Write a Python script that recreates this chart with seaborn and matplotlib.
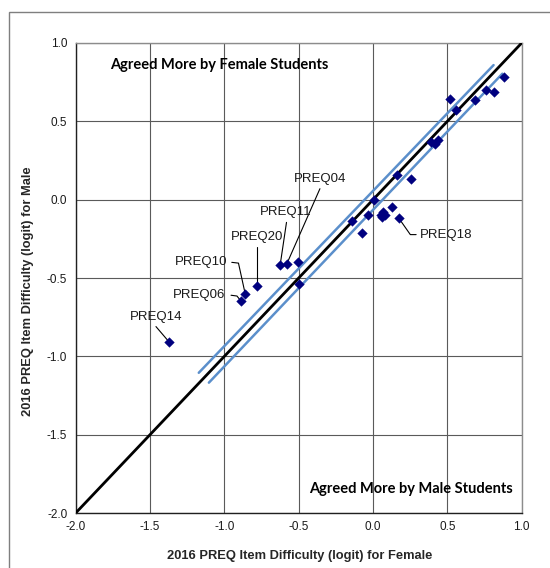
import matplotlib
matplotlib.use("Agg")
import matplotlib.pyplot as plt
import seaborn as sns
import pandas as pd
from matplotlib.patches import Rectangle

# Item difficulty estimates (logits) for female and male respondents
female = [-1.37, -0.89, -0.86, -0.78, -0.625, -0.58, -0.505, -0.495,
          -0.14, -0.075, -0.035, 0.01, 0.055, 0.07, 0.08, 0.06, 0.125,
          0.175, 0.16, 0.255, 0.39, 0.42, 0.44, 0.515, 0.555, 0.685,
          0.76, 0.815, 0.88]
male = [-0.91, -0.645, -0.60, -0.55, -0.42, -0.41, -0.40, -0.54,
        -0.135, -0.215, -0.097, -0.005, -0.10, -0.08, -0.10, -0.11, -0.045,
        -0.12, 0.155, 0.13, 0.37, 0.355, 0.38, 0.64, 0.575, 0.635,
        0.70, 0.685, 0.785]
items = ["PREQ14", "PREQ06", "PREQ10", "PREQ20", "PREQ11", "PREQ04", "", "",
         "", "", "", "", "", "", "", "", "",
         "PREQ18", "", "", "", "", "", "", "", "",
         "", "", ""]

# Identity line and the two control band lines
identity_x = [-2.0, 1.0]
identity_y = [-2.0, 1.0]
band_upper_x = [-1.172, 0.811]
band_upper_y = [-1.105, 0.859]
band_lower_x = [-1.104, 0.870]
band_lower_y = [-1.168, 0.804]

ticks = [-2.0, -1.5, -1.0, -0.5, 0.0, 0.5, 1.0]
tick_labels = ["-2.0", "-1.5", "-1.0", "-0.5", "0.0", "0.5", "1.0"]

df = pd.DataFrame({"female": female, "male": male, "item": items})

sns.set_style("white")
plt.rcParams["font.family"] = ["Liberation Sans", "DejaVu Sans"]

fig = plt.figure(figsize=(5.5, 5.68), dpi=100)
ax = fig.add_axes([0.1376, 0.0968, 0.8109, 0.8275])

# chart area border
fig.add_artist(Rectangle((9 / 550, -0.1), 1.2, 1 - 12 / 568 + 0.1,
                         transform=fig.transFigure, fill=False,
                         edgecolor="#7f7f7f", linewidth=1.0))

ax.set_xlim(-2.0, 1.0)
ax.set_ylim(-2.0, 1.0)
ax.set_xticks(ticks)
ax.set_yticks(ticks)
ax.set_xticklabels(tick_labels)
ax.set_yticklabels(tick_labels)
ax.grid(True, color="#5a5a5a", linewidth=0.8)
ax.set_axisbelow(True)
ax.tick_params(axis="both", direction="out", length=4, width=0.8,
               labelsize=8.5, color="#404040", labelcolor="#1a1a1a", pad=2)
for side in ["left", "bottom"]:
    ax.spines[side].set_color("#202020")
    ax.spines[side].set_linewidth(1.0)
for side in ["top", "right"]:
    ax.spines[side].set_color("#8c8c8c")
    ax.spines[side].set_linewidth(1.0)

sns.lineplot(x=band_upper_x, y=band_upper_y, ax=ax, color="#5b8fcb",
             linewidth=1.8, zorder=3)
sns.lineplot(x=band_lower_x, y=band_lower_y, ax=ax, color="#5b8fcb",
             linewidth=1.8, zorder=3)
sns.lineplot(x=identity_x, y=identity_y, ax=ax, color="black",
             linewidth=2.0, zorder=4)

sns.scatterplot(data=df, x="female", y="male", ax=ax, marker="D", s=24,
                color="#00007f", edgecolor="#00007f", linewidth=0.3, zorder=5)

# callout layout: text anchor, alignment, leader path (ending at the point)
callouts = {
    "PREQ14": dict(xy=(-1.46, -0.75), ha="center", path=[(-1.46, -0.81)]),
    "PREQ10": dict(xy=(-0.982, -0.40), ha="right",
                   path=[(-0.95, -0.40), (-0.905, -0.405)]),
    "PREQ06": dict(xy=(-0.995, -0.61), ha="right",
                   path=[(-0.955, -0.61), (-0.915, -0.615)]),
    "PREQ20": dict(xy=(-0.777, -0.24), ha="center", path=[(-0.78, -0.305)]),
    "PREQ11": dict(xy=(-0.585, -0.08), ha="center", path=[(-0.582, -0.145)]),
    "PREQ04": dict(xy=(-0.354, 0.134), ha="center", path=[(-0.357, 0.07)]),
    "PREQ18": dict(xy=(0.315, -0.227), ha="left",
                   path=[(0.29, -0.223), (0.251, -0.223)]),
}
for _, row in df[df["item"] != ""].iterrows():
    c = callouts[row["item"]]
    px = [p[0] for p in c["path"]] + [row["female"]]
    py = [p[1] for p in c["path"]] + [row["male"]]
    ax.plot(px, py, color="black", linewidth=0.8, zorder=4)
    ax.text(c["xy"][0], c["xy"][1], row["item"], ha=c["ha"], va="center",
            fontsize=9.5, color="#1a1a1a", zorder=6)

ax.text(-1.77, 0.86, "Agreed More by Female Students", ha="left", va="center",
        fontsize=10.5, fontweight="bold", family=["Lato", "DejaVu Sans"],
        color="black", zorder=6)
ax.text(0.94, -1.846, "Agreed More by Male Students", ha="right", va="center",
        fontsize=10.5, fontweight="bold", family=["Lato", "DejaVu Sans"],
        color="black", zorder=6)

ax.set_xlabel("")
ax.set_ylabel("")
fig.text(300 / 550, 1 - 556 / 568, "2016 PREQ Item Difficulty (logit) for Female",
         ha="center", va="center", fontsize=9.3, fontweight="bold")
fig.text(28 / 550, 1 - 291 / 568, "2016 PREQ Item Difficulty (logit) for Male",
         ha="center", va="center", rotation=90, fontsize=9.3, fontweight="bold")

fig.savefig("out.png", dpi=100)
